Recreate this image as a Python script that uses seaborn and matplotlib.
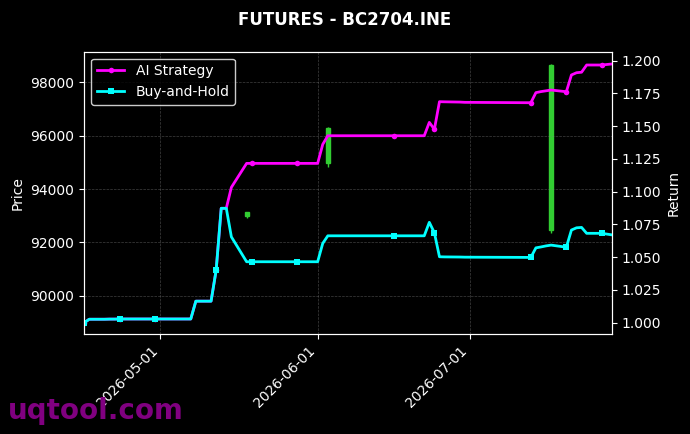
import numpy as np
import pandas as pd
import matplotlib
matplotlib.use("Agg")
import matplotlib.pyplot as plt
import matplotlib.dates as mdates
import seaborn as sns

# trading days shown on the chart
dates = ["2026-04-16", "2026-04-17", "2026-04-20", "2026-04-21", "2026-04-22",
         "2026-04-23", "2026-04-24", "2026-04-27", "2026-04-28", "2026-04-29",
         "2026-04-30", "2026-05-06", "2026-05-07", "2026-05-08", "2026-05-11",
         "2026-05-12", "2026-05-13", "2026-05-14", "2026-05-15", "2026-05-18",
         "2026-05-19", "2026-05-20", "2026-05-21", "2026-05-22", "2026-05-25",
         "2026-05-28", "2026-06-01", "2026-06-02", "2026-06-03", "2026-06-04",
         "2026-06-16", "2026-06-17", "2026-06-18", "2026-06-22", "2026-06-23",
         "2026-06-24", "2026-06-25", "2026-06-26", "2026-06-29", "2026-06-30",
         "2026-07-13", "2026-07-14", "2026-07-15", "2026-07-16", "2026-07-17",
         "2026-07-20", "2026-07-21", "2026-07-22", "2026-07-23", "2026-07-24",
         "2026-07-27", "2026-07-28", "2026-07-29"]

buy_hold = [1.0000, 1.0026, 1.0026, 1.0027, 1.0027,
            1.0028, 1.0028, 1.0028, 1.0028, 1.0028,
            1.0028, 1.0028, 1.0028, 1.0164, 1.0164,
            1.0400, 1.0873, 1.0873, 1.0655, 1.0465,
            1.0465, 1.0465, 1.0465, 1.0465, 1.0465,
            1.0465, 1.0465, 1.0605, 1.0663, 1.0663,
            1.0663, 1.0663, 1.0663, 1.0663, 1.0766,
            1.0686, 1.0503, 1.0502, 1.0501, 1.0500,
            1.0498, 1.0571, 1.0578, 1.0586, 1.0592,
            1.0576, 1.0707, 1.0724, 1.0727, 1.0682,
            1.0682, 1.0676, 1.0670]

strategy = [1.0000, 1.0026, 1.0026, 1.0027, 1.0027,
            1.0028, 1.0028, 1.0028, 1.0028, 1.0028,
            1.0028, 1.0028, 1.0028, 1.0164, 1.0164,
            1.0400, 1.0873, 1.0873, 1.1033, 1.1216,
            1.1216, 1.1216, 1.1216, 1.1216, 1.1216,
            1.1216, 1.1216, 1.1361, 1.1427, 1.1427,
            1.1427, 1.1427, 1.1427, 1.1427, 1.1529,
            1.1476, 1.1687, 1.1686, 1.1684, 1.1682,
            1.1679, 1.1756, 1.1764, 1.1770, 1.1776,
            1.1763, 1.1891, 1.1908, 1.1912, 1.1967,
            1.1967, 1.1971, 1.1975]

# candles on the price axis
candle_dates = ["2026-05-18", "2026-06-03", "2026-07-17"]
opens = [92990, 94960, 92480]
closes = [93130, 96300, 98660]
highs = [93140, 96310, 98670]
lows = [92920, 94840, 92350]

df = pd.DataFrame({"date": pd.to_datetime(dates), "AI Strategy": strategy, "Buy-and-Hold": buy_hold})
cdf = pd.DataFrame({"date": pd.to_datetime(candle_dates), "open": opens, "close": closes,
                    "high": highs, "low": lows})

plt.style.use("dark_background")
fig, ax1 = plt.subplots(figsize=(6.9, 4.34), dpi=100)
fig.subplots_adjust(left=0.122, right=0.887, top=0.881, bottom=0.230)

# price candles
ax1.vlines(cdf["date"], cdf["low"], cdf["high"], color="limegreen", linewidth=1)
ax1.bar(cdf["date"], cdf["close"] - cdf["open"], bottom=cdf["open"], width=0.8,
        color="limegreen", edgecolor="limegreen", linewidth=1)
ax1.set_ylim(88560, 99150)
ax1.set_ylabel("Price")
ax1.grid(True, linestyle="--", linewidth=0.5, color="gray", alpha=0.5)

# returns
ax2 = ax1.twinx()
sns.lineplot(data=df, x="date", y="AI Strategy", ax=ax2, color="magenta", linewidth=2,
             marker="o", markersize=4, markevery=5, markeredgewidth=0, label="AI Strategy")
sns.lineplot(data=df, x="date", y="Buy-and-Hold", ax=ax2, color="cyan", linewidth=2,
             marker="s", markersize=4, markevery=5, markeredgewidth=0, label="Buy-and-Hold")
ax2.set_ylim(0.9912, 1.2069)
ax2.set_ylabel("Return")
ax2.grid(False)
ax2.legend(loc="upper left", facecolor="black", edgecolor="white", fontsize=10)

ax1.set_xlim(df["date"].min(), df["date"].max())
ax1.xaxis.set_major_locator(mdates.MonthLocator())
ax1.xaxis.set_major_formatter(mdates.DateFormatter("%Y-%m-%d"))
ax1.set_xlabel("")
ax2.set_xlabel("")
plt.setp(ax1.get_xticklabels(), rotation=45, ha="right")

fig.suptitle("FUTURES - BC2704.INE", fontsize=12, fontweight="bold", y=0.975)
fig.text(0.012, 0.035, "uqtool.com", fontsize=20, fontweight="bold", color="purple")

fig.savefig("out.png", dpi=100, facecolor="black")
